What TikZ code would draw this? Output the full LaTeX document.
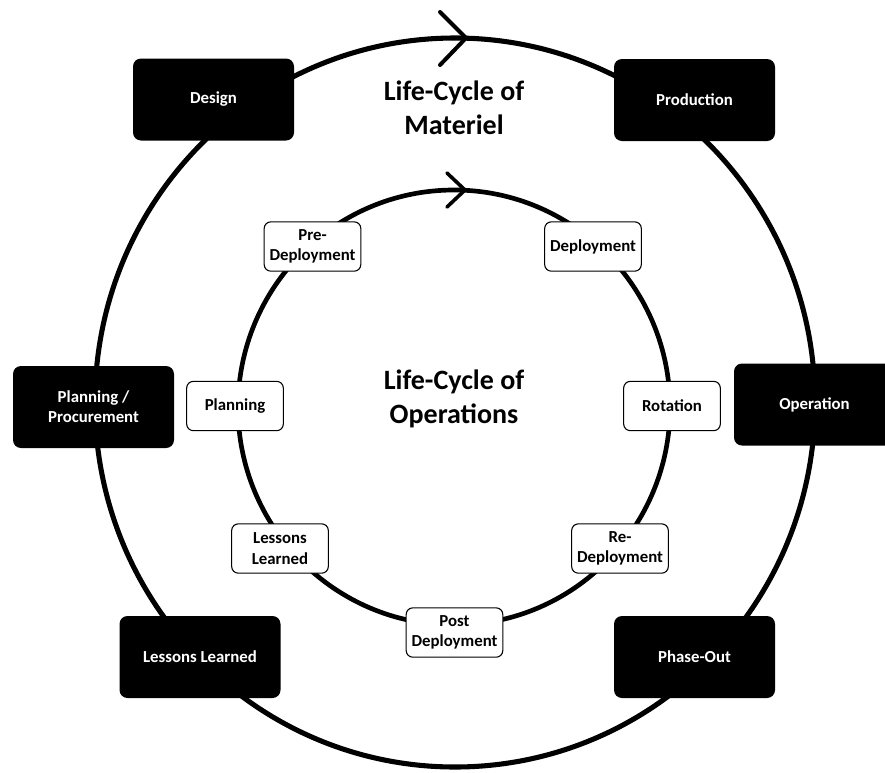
\documentclass[tikz,border=0pt]{standalone}
\usepackage{fontspec}
\setmainfont{Carlito}
\begin{document}
\begin{tikzpicture}[x=0.75pt,y=-0.75pt,
  ring/.style={line width=3.8pt},
  chevron/.style={line width=3pt,line cap=round,line join=miter},
  darkbox/.style={rectangle,rounded corners=6pt,fill=black,text=white,
    minimum width=120.75pt,minimum height=61.5pt,inner sep=0pt,align=center,
    font=\fontsize{12.6}{15.2}\selectfont\bfseries},
  lightbox/.style={rectangle,rounded corners=5pt,fill=white,draw=black,line width=0.8pt,
    minimum width=72.5pt,minimum height=37pt,inner sep=0pt,align=center,
    font=\fontsize{12.6}{15.2}\selectfont\bfseries},
  title/.style={align=center,font=\fontsize{21}{25.9}\selectfont\bfseries}]
\useasboundingbox (0,0) rectangle (885,772);
% rings
\draw[ring] (455,402.5) ellipse (360 and 364.5);
\draw[ring,line width=3.5pt] (454,407.5) ellipse (216 and 217.5);
% direction marks
\coordinate (otip) at (466,38);
\coordinate (itip) at (465,190);
\draw[chevron] (otip) ++(-26,-26) -- (otip) -- ++(-26,27);
\draw[chevron,line width=2.7pt] (itip) ++(-18,-17) -- (itip) -- ++(-18,17);
% titles
\node[title] (tmat) at (454,108) {Life-Cycle of\\Materiel};
\node[title] (tops) at (454,399) {Life-Cycle of\\Operations};
% outer boxes
\node[darkbox] (design) at (213.5,99.5) {Design};
\node[darkbox] (production) at (694.5,100) {Production};
\node[darkbox] (planproc) at (93.5,407) {Planning /\\Procurement};
\node[darkbox] (operation) at (814.5,404.5) {Operation};
\node[darkbox] (lessonsout) at (200,657) {Lessons Learned};
\node[darkbox] (phaseout) at (694.5,657) {Phase-Out};
% inner boxes
\node[lightbox] (predeploy) at (312.5,246.5) {Pre-\\Deployment};
\node[lightbox] (deploy) at (593,246.5) {Deployment};
\node[lightbox] (planning) at (235,406) {Planning};
\node[lightbox] (rotation) at (672,406) {Rotation};
\node[lightbox] (lessonsin) at (280,548.5) {Lessons\\Learned};
\node[lightbox] (redeploy) at (620,548.5) {Re-\\Deployment};
\node[lightbox] (postdeploy) at (454.5,632.5) {Post\\Deployment};
\end{tikzpicture}
\end{document}
